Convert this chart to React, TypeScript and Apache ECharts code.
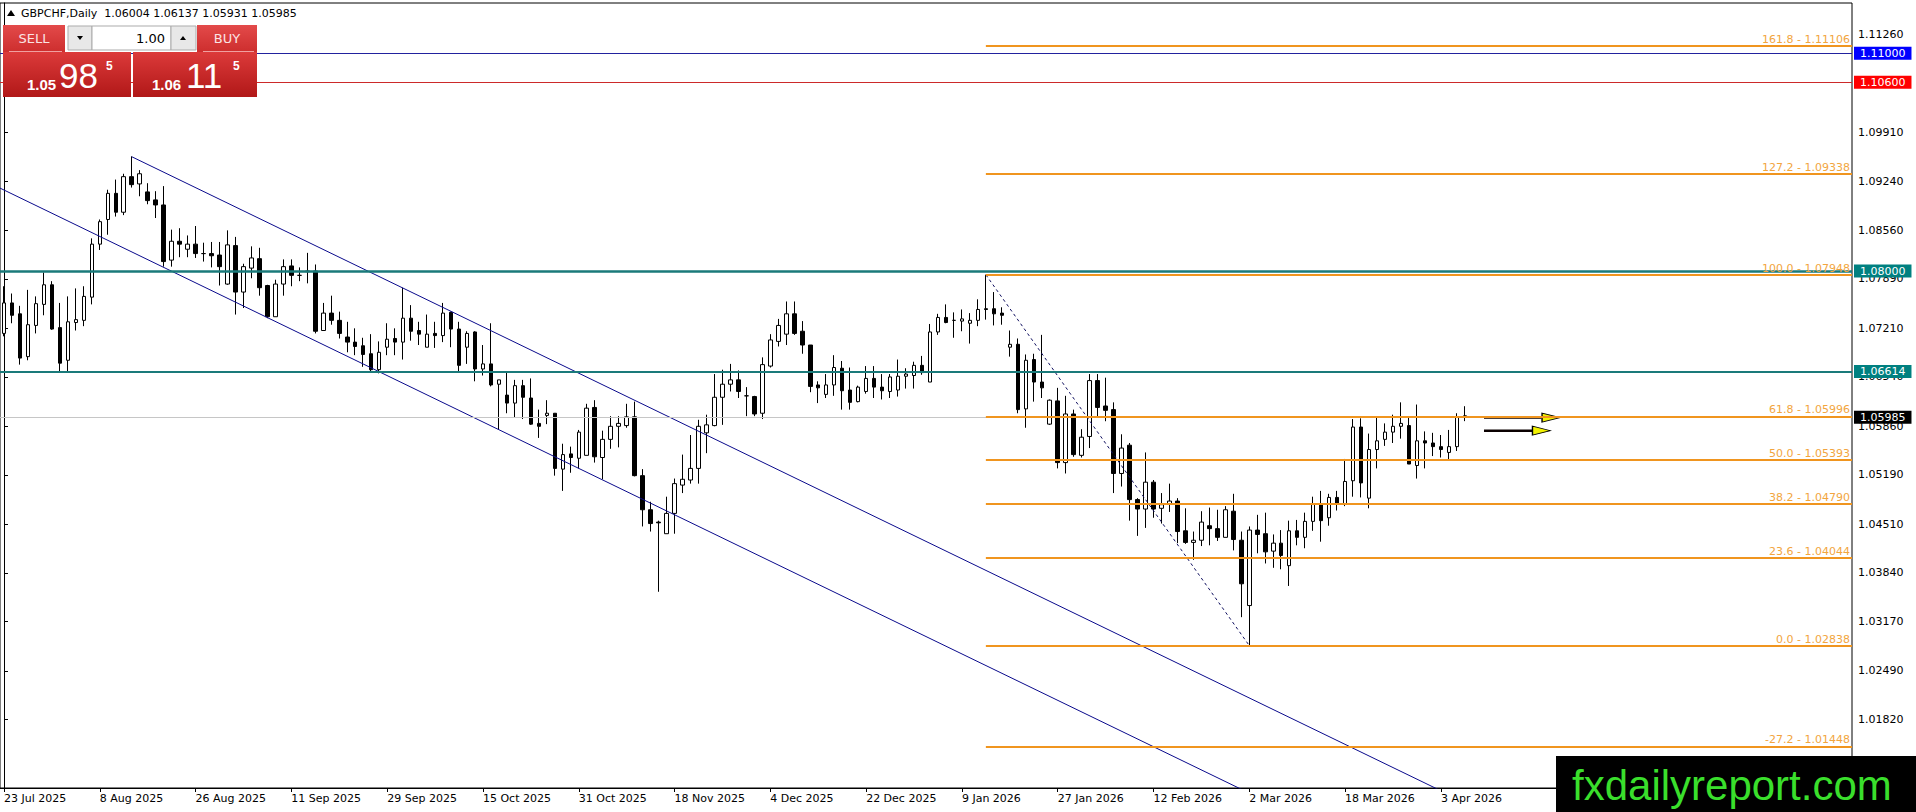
import { useEffect, useRef } from "react";
import * as echarts from "echarts";

const FONT = "DejaVu Sans";
const MONTHS = ["Jan", "Feb", "Mar", "Apr", "May", "Jun", "Jul", "Aug", "Sep", "Oct", "Nov", "Dec"];

// time scale: one slot per trading day, plus empty space on the right
const FIRST_BAR = Date.UTC(2025, 6, 23);
const MARKET_CLOSED = ["2025-12-25", "2026-01-01"];
const SLOT_COUNT = 232;

const X_LABELS = [
  "23 Jul 2025", "8 Aug 2025", "26 Aug 2025", "11 Sep 2025", "29 Sep 2025", "15 Oct 2025",
  "31 Oct 2025", "18 Nov 2025", "4 Dec 2025", "22 Dec 2025", "9 Jan 2026", "27 Jan 2026",
  "12 Feb 2026", "2 Mar 2026", "18 Mar 2026", "3 Apr 2026",
];

const Y_TICKS = [
  1.1126, 1.1059, 1.0991, 1.0924, 1.0856, 1.0789, 1.0721, 1.0654, 1.0586, 1.0519,
  1.0451, 1.0384, 1.0317, 1.0249, 1.0182,
];

const OPEN = [
  1.0714, 1.0756, 1.0741, 1.0682, 1.0725, 1.0754, 1.0781, 1.0722, 1.0677, 1.0729,
  1.0732, 1.0764, 1.0837, 1.0871, 1.0907, 1.0881, 1.0930, 1.0920, 1.0909, 1.0898,
  1.0891, 1.0815, 1.0841, 1.0830, 1.0837, 1.0824, 1.0824, 1.0822, 1.0782, 1.0835,
  1.0771, 1.0804, 1.0817, 1.0780, 1.0737, 1.0782, 1.0807, 1.0794, 1.0800, 1.0800,
  1.0718, 1.0742, 1.0732, 1.0709, 1.0702, 1.0697, 1.0686, 1.0664, 1.0695, 1.0707,
  1.0702, 1.0735, 1.0718, 1.0695, 1.0714, 1.0711, 1.0743, 1.0720, 1.0695, 1.0716,
  1.0665, 1.0672, 1.0644, 1.0629, 1.0618, 1.0642, 1.0625, 1.0590, 1.0601, 1.0604,
  1.0527, 1.0548, 1.0542, 1.0546, 1.0612, 1.0543, 1.0568, 1.0586, 1.0587, 1.0599,
  1.0518, 1.0471, 1.0454, 1.0438, 1.0466, 1.0505, 1.0512, 1.0528, 1.0577, 1.0587,
  1.0626, 1.0644, 1.0650, 1.0628, 1.0627, 1.0604, 1.0669, 1.0703, 1.0713, 1.0741,
  1.0717, 1.0698, 1.0643, 1.0630, 1.0643, 1.0666, 1.0636, 1.0620, 1.0634, 1.0652,
  1.0640, 1.0634, 1.0636, 1.0655, 1.0656, 1.0670, 1.0647, 1.0716, 1.0736, 1.0732,
  1.0731, 1.0728, 1.0732, 1.0748, 1.0748, 1.0742, 1.0695, 1.0699, 1.0610, 1.0678,
  1.0647, 1.0589, 1.0621, 1.0536, 1.0603, 1.0546, 1.0572, 1.0649, 1.0614, 1.0609,
  1.0521, 1.0560, 1.0485, 1.0472, 1.0509, 1.0473, 1.0479, 1.0483, 1.0442, 1.0426,
  1.0429, 1.0449, 1.0445, 1.0433, 1.0469, 1.0429, 1.0339, 1.0443, 1.0438, 1.0414,
  1.0425, 1.0394, 1.0442, 1.0433, 1.0455, 1.0479, 1.0460, 1.0488, 1.0479, 1.0511,
  1.0585, 1.0487, 1.0554, 1.0568, 1.0578, 1.0586, 1.0587, 1.0532, 1.0566, 1.0563,
  1.0558, 1.0550, 1.0558, 1.06004,
];

const HIGH = [
  1.0779, 1.0769, 1.0752, 1.0774, 1.0765, 1.0798, 1.0786, 1.0756, 1.0765, 1.0776,
  1.0779, 1.0845, 1.0871, 1.0912, 1.0926, 1.0934, 1.0958, 1.0939, 1.0921, 1.0910,
  1.0917, 1.0857, 1.0859, 1.0849, 1.0862, 1.0839, 1.0840, 1.0840, 1.0856, 1.0847,
  1.0810, 1.0834, 1.0832, 1.0781, 1.0788, 1.0816, 1.0816, 1.0805, 1.0825, 1.0809,
  1.0756, 1.0766, 1.0744, 1.0730, 1.0721, 1.0708, 1.0713, 1.0703, 1.0728, 1.0721,
  1.0777, 1.0753, 1.0730, 1.0740, 1.0730, 1.0756, 1.0744, 1.0730, 1.0717, 1.0717,
  1.0698, 1.0728, 1.0650, 1.0661, 1.0650, 1.0650, 1.0652, 1.0609, 1.0622, 1.0604,
  1.0562, 1.0558, 1.0581, 1.0617, 1.0622, 1.0580, 1.0600, 1.0600, 1.0617, 1.0620,
  1.0527, 1.0482, 1.0456, 1.0489, 1.0514, 1.0547, 1.0574, 1.0595, 1.0602, 1.0658,
  1.0664, 1.0672, 1.0663, 1.0640, 1.0628, 1.0681, 1.0713, 1.0734, 1.0758, 1.0758,
  1.0731, 1.0698, 1.0648, 1.0658, 1.0684, 1.0676, 1.0667, 1.0642, 1.0669, 1.0669,
  1.0658, 1.0658, 1.0678, 1.0666, 1.0675, 1.0683, 1.0727, 1.0741, 1.0754, 1.0743,
  1.0747, 1.0742, 1.0761, 1.07948, 1.0771, 1.0750, 1.0718, 1.0707, 1.0685, 1.0686,
  1.0712, 1.0623, 1.0639, 1.0628, 1.0609, 1.0582, 1.0658, 1.0658, 1.0653, 1.0619,
  1.0575, 1.0563, 1.0487, 1.0550, 1.0512, 1.0494, 1.0507, 1.0487, 1.0473, 1.0441,
  1.0469, 1.0474, 1.0471, 1.0476, 1.0493, 1.0441, 1.0448, 1.0464, 1.0467, 1.0437,
  1.0443, 1.0456, 1.0457, 1.0467, 1.0489, 1.0497, 1.0493, 1.0497, 1.0541, 1.0596,
  1.0597, 1.0576, 1.0598, 1.0590, 1.0602, 1.0619, 1.0599, 1.0616, 1.0579, 1.0577,
  1.0574, 1.0581, 1.0604, 1.06137,
];

const LOW = [
  1.0710, 1.0728, 1.0671, 1.0677, 1.0714, 1.0739, 1.0719, 1.0662, 1.0662, 1.0718,
  1.0724, 1.0754, 1.0829, 1.0850, 1.0875, 1.0877, 1.0915, 1.0903, 1.0892, 1.0873,
  1.0806, 1.0806, 1.0819, 1.0819, 1.0818, 1.0813, 1.0805, 1.0780, 1.0781, 1.0740,
  1.0749, 1.0790, 1.0766, 1.0735, 1.0737, 1.0766, 1.0779, 1.0786, 1.0783, 1.0714,
  1.0718, 1.0726, 1.0707, 1.0688, 1.0684, 1.0668, 1.0662, 1.0659, 1.0684, 1.0684,
  1.0678, 1.0704, 1.0698, 1.0695, 1.0694, 1.0702, 1.0695, 1.0661, 1.0672, 1.0648,
  1.0656, 1.0641, 1.0581, 1.0604, 1.0598, 1.0596, 1.0588, 1.0570, 1.0589, 1.0518,
  1.0497, 1.0522, 1.0528, 1.0546, 1.0536, 1.0513, 1.0555, 1.0557, 1.0584, 1.0517,
  1.0448, 1.0441, 1.0358, 1.0438, 1.0438, 1.0494, 1.0507, 1.0507, 1.0549, 1.0586,
  1.0588, 1.0634, 1.0625, 1.0600, 1.0600, 1.0596, 1.0667, 1.0696, 1.0698, 1.0712,
  1.0686, 1.0633, 1.0618, 1.0625, 1.0628, 1.0609, 1.0609, 1.0619, 1.0631, 1.0625,
  1.0623, 1.0625, 1.0627, 1.0638, 1.0638, 1.0657, 1.0647, 1.0712, 1.0728, 1.0708,
  1.0717, 1.0700, 1.0724, 1.0733, 1.0725, 1.0726, 1.0682, 1.0604, 1.0584, 1.0620,
  1.0625, 1.0588, 1.0528, 1.0521, 1.0544, 1.0543, 1.0556, 1.0599, 1.0593, 1.0494,
  1.0503, 1.0456, 1.0435, 1.0446, 1.0460, 1.0452, 1.0468, 1.0425, 1.0424, 1.0402,
  1.0421, 1.0422, 1.0428, 1.0433, 1.0415, 1.0323, 1.02838, 1.0411, 1.0397, 1.0391,
  1.0389, 1.0366, 1.0422, 1.0418, 1.0442, 1.0427, 1.0449, 1.0470, 1.0476, 1.0489,
  1.0488, 1.0473, 1.0528, 1.0559, 1.0563, 1.0569, 1.0534, 1.0514, 1.0528, 1.0545,
  1.0543, 1.0540, 1.0552, 1.05931,
];

const CLOSE = [
  1.0756, 1.0739, 1.0680, 1.0726, 1.0755, 1.0781, 1.0720, 1.0673, 1.0730, 1.0733,
  1.0765, 1.0837, 1.0868, 1.0907, 1.0881, 1.0930, 1.0919, 1.0934, 1.0897, 1.0891,
  1.0813, 1.0841, 1.0837, 1.0837, 1.0824, 1.0824, 1.0821, 1.0806, 1.0836, 1.0771,
  1.0806, 1.0818, 1.0777, 1.0737, 1.0782, 1.0806, 1.0794, 1.0794, 1.0799, 1.0717,
  1.0742, 1.0732, 1.0714, 1.0702, 1.0696, 1.0685, 1.0664, 1.0688, 1.0706, 1.0702,
  1.0735, 1.0717, 1.0713, 1.0713, 1.0711, 1.0742, 1.0720, 1.0670, 1.0714, 1.0665,
  1.0672, 1.0643, 1.0650, 1.0618, 1.0642, 1.0626, 1.0589, 1.0586, 1.0604, 1.0528,
  1.0547, 1.0543, 1.0578, 1.0611, 1.0544, 1.0568, 1.0586, 1.0590, 1.0599, 1.0518,
  1.0471, 1.0452, 1.0453, 1.0466, 1.0507, 1.0513, 1.0528, 1.0586, 1.0588, 1.0626,
  1.0644, 1.0650, 1.0634, 1.0628, 1.0603, 1.0671, 1.0705, 1.0725, 1.0741, 1.0714,
  1.0698, 1.0641, 1.0639, 1.0643, 1.0667, 1.0635, 1.0619, 1.0640, 1.0652, 1.0640,
  1.0635, 1.0654, 1.0655, 1.0658, 1.0670, 1.0660, 1.0716, 1.0736, 1.0729, 1.0732,
  1.0734, 1.0732, 1.0747, 1.0747, 1.0741, 1.0739, 1.0699, 1.0609, 1.0677, 1.0647,
  1.0639, 1.0622, 1.0536, 1.0603, 1.0547, 1.0571, 1.0649, 1.0612, 1.0608, 1.0521,
  1.0556, 1.0485, 1.0472, 1.0509, 1.0472, 1.0478, 1.0483, 1.0441, 1.0426, 1.0429,
  1.0454, 1.0445, 1.0433, 1.0471, 1.0430, 1.0369, 1.0443, 1.0437, 1.0413, 1.0425,
  1.0408, 1.0442, 1.0433, 1.0455, 1.0479, 1.0456, 1.0488, 1.0479, 1.0510, 1.0585,
  1.0508, 1.0554, 1.0566, 1.0578, 1.0586, 1.0590, 1.0534, 1.0566, 1.0563, 1.0558,
  1.0554, 1.0558, 1.0599, 1.05985,
];

// fibonacci retracement drawn from the January high to the March low
const FIB_SWING = [[123, 1.07948], [156, 1.02838]];
const FIB_LEVELS = [161.8, 127.2, 100.0, 61.8, 50.0, 38.2, 23.6, 0.0, -27.2];
const FIB_PRICES = [1.11106, 1.09338, 1.07948, 1.05996, 1.05393, 1.0479, 1.04044, 1.02838, 1.01448];

// horizontal levels with their price boxes on the right scale
const LEVEL_PRICES = [1.11, 1.106, 1.08, 1.06614, 1.05985];
const LEVEL_LINE_COLORS = ["#22229E", "#CC2A2A", "#1A7A7A", "#1A7A7A", "#C6C6C6"];
const LEVEL_BOX_COLORS = ["#0000FF", "#FF0000", "#008080", "#008080", "#000000"];
const LEVEL_WIDTHS = [1, 1, 2.5, 2, 1];

// descending channel
const CHANNEL_UPPER = [[16, 1.09575], [180, 1.00838]];
const CHANNEL_LOWER = [[-1, 1.09169], [165, 1.00326]];

// the two yellow arrows to the right of the last bar
const ARROW_PRICES = [1.0598, 1.058];
const ARROW_STARTS = [185.4, 185.4];
const ARROW_ENDS = [192.6, 191.5];
const ARROW_HEADS = [193.8, 192.6];

const FIB_LINE = "#F0951F";
const FIB_TEXT = "#F2A53E";

function tradingDays() {
  const out: string[] = [];
  let t = FIRST_BAR;
  while (out.length < SLOT_COUNT) {
    const d = new Date(t);
    const wd = d.getUTCDay();
    const iso = d.toISOString().slice(0, 10);
    if (wd !== 0 && wd !== 6 && !MARKET_CLOSED.includes(iso)) {
      out.push(`${d.getUTCDate()} ${MONTHS[d.getUTCMonth()]} ${d.getUTCFullYear()}`);
    }
    t += 86400000;
  }
  return out;
}

const redFill = (top: string, bottom: string) =>
  new echarts.graphic.LinearGradient(0, 0, 0, 1, [
    { offset: 0, color: top },
    { offset: 1, color: bottom },
  ]);

function tradePanel() {
  const z = 100;
  const small = `13px "${FONT}"`;
  return [
    // header line
    { type: "polygon", z, shape: { points: [[7, 16], [11, 10], [15, 16]] }, style: { fill: "#000" } },
    {
      type: "text", z, x: 21, y: 13,
      style: { text: "GBPCHF,Daily  1.06004 1.06137 1.05931 1.05985", fill: "#000", font: `11px "${FONT}"`, verticalAlign: "middle" },
    },
    // one-click trading panel
    { type: "rect", z, shape: { x: 3, y: 25, width: 62, height: 27 }, style: { fill: redFill("#E34A4A", "#CD2E2E") } },
    { type: "text", z, x: 34, y: 38, style: { text: "SELL", fill: "#FBE4E4", font: small, align: "center", verticalAlign: "middle" } },
    { type: "line", z, shape: { x1: 9, y1: 51.5, x2: 62, y2: 51.5 }, style: { stroke: "#F0A0A0", lineWidth: 1 } },
    { type: "rect", z, shape: { x: 68, y: 26, width: 24, height: 24 }, style: { fill: "#E8E8E8", stroke: "#ABABAB", lineWidth: 1 } },
    { type: "polygon", z, shape: { points: [[77, 36], [83, 36], [80, 40]] }, style: { fill: "#000" } },
    { type: "rect", z, shape: { x: 92, y: 26, width: 79, height: 24 }, style: { fill: "#fff", stroke: "#ABABAB", lineWidth: 1 } },
    { type: "text", z, x: 165, y: 38, style: { text: "1.00", fill: "#000", font: small, align: "right", verticalAlign: "middle" } },
    { type: "rect", z, shape: { x: 171, y: 26, width: 25, height: 24 }, style: { fill: "#E8E8E8", stroke: "#ABABAB", lineWidth: 1 } },
    { type: "polygon", z, shape: { points: [[180, 40], [186, 40], [183, 36]] }, style: { fill: "#000" } },
    { type: "rect", z, shape: { x: 197, y: 25, width: 60, height: 27 }, style: { fill: redFill("#E34A4A", "#CD2E2E") } },
    { type: "text", z, x: 227, y: 38, style: { text: "BUY", fill: "#FBE4E4", font: small, align: "center", verticalAlign: "middle" } },
    { type: "line", z, shape: { x1: 203, y1: 51.5, x2: 254, y2: 51.5 }, style: { stroke: "#F0A0A0", lineWidth: 1 } },
    { type: "rect", z, shape: { x: 3, y: 52, width: 128, height: 45 }, style: { fill: redFill("#DC3A3A", "#B11818") } },
    { type: "rect", z, shape: { x: 133, y: 52, width: 124, height: 45 }, style: { fill: redFill("#DC3A3A", "#B11818") } },
    { type: "text", z, x: 27, y: 84, style: { text: "1.05", fill: "#fff", font: 'bold 15px "Liberation Sans"', verticalAlign: "middle" } },
    { type: "text", z, x: 59, y: 75, style: { text: "98", fill: "#fff", font: '35px "Liberation Sans"', verticalAlign: "middle" } },
    { type: "text", z, x: 106, y: 66, style: { text: "5", fill: "#fff", font: 'bold 12px "Liberation Sans"', verticalAlign: "middle" } },
    { type: "text", z, x: 152, y: 84, style: { text: "1.06", fill: "#fff", font: 'bold 15px "Liberation Sans"', verticalAlign: "middle" } },
    { type: "text", z, x: 186, y: 75, style: { text: "11", fill: "#fff", font: '35px "Liberation Sans"', verticalAlign: "middle" } },
    { type: "text", z, x: 233, y: 66, style: { text: "5", fill: "#fff", font: 'bold 12px "Liberation Sans"', verticalAlign: "middle" } },
    // watermark
    { type: "rect", z, shape: { x: 1556, y: 756, width: 360, height: 56 }, style: { fill: "#000" } },
    {
      type: "text", z, x: 1572, y: 785,
      style: { text: "fxdailyreport.com", fill: "#3ADF2C", font: '42px "Liberation Sans"', verticalAlign: "middle" },
    },
  ];
}

export default function App() {
  const chartRef = useRef<HTMLDivElement>(null);

  useEffect(() => {
    if (!chartRef.current) return;
    const chart = echarts.init(chartRef.current, undefined, { renderer: "svg" });

    const dates = tradingDays();
    const candles = OPEN.map((o, i) => [o, CLOSE[i], LOW[i], HIGH[i]]);
    const showDate = (_: number, value: string) => X_LABELS.includes(value);

    const levelLines = LEVEL_PRICES.map((p, i) => ({
      yAxis: p,
      lineStyle: { color: LEVEL_LINE_COLORS[i], width: LEVEL_WIDTHS[i], type: "solid" },
      label: {
        show: true,
        position: "end",
        distance: 2,
        formatter: p.toFixed(5),
        color: "#fff",
        backgroundColor: LEVEL_BOX_COLORS[i],
        padding: [1, 6, 0, 6],
        fontFamily: FONT,
        fontSize: 11,
        lineHeight: 12,
      },
    }));

    const fibLines = FIB_PRICES.map((p, i) => [
      {
        coord: [FIB_SWING[0][0], p],
        lineStyle: { color: FIB_LINE, width: 2, type: "solid" },
        label: {
          show: true,
          position: "insideEndTop",
          distance: [2, 1],
          formatter: `${FIB_LEVELS[i].toFixed(1)} - ${p.toFixed(5)}`,
          color: FIB_TEXT,
          fontFamily: FONT,
          fontSize: 11,
        },
      },
      { coord: [SLOT_COUNT - 0.5, p] },
    ]);

    const option = {
      animation: false,
      backgroundColor: "#fff",
      textStyle: { fontFamily: FONT },
      grid: {
        left: 0,
        top: 3,
        width: 1852,
        height: 785,
        show: true,
        borderColor: "#000",
        borderWidth: 1,
        backgroundColor: "#fff",
      },
      xAxis: [
        {
          type: "category",
          data: dates,
          boundaryGap: true,
          axisLine: { show: true, lineStyle: { color: "#000" } },
          axisTick: { show: true, alignWithLabel: true, interval: showDate, length: 4, lineStyle: { color: "#000" } },
          axisLabel: { interval: showDate, align: "left", margin: 5, color: "#000", fontFamily: FONT, fontSize: 11 },
          splitLine: { show: false },
        },
        { type: "value", min: -0.5, max: SLOT_COUNT - 0.5, show: false },
      ],
      yAxis: {
        type: "value",
        position: "right",
        min: 1.00876,
        max: 1.11693,
        splitLine: { show: false },
        axisLine: { show: true, lineStyle: { color: "#000" } },
        axisTick: { show: true, length: 4, customValues: Y_TICKS, lineStyle: { color: "#000" } },
        axisLabel: {
          customValues: Y_TICKS,
          formatter: (v: number) => v.toFixed(5),
          color: "#000",
          fontFamily: FONT,
          fontSize: 11,
          margin: 6,
        },
      },
      series: [
        {
          type: "candlestick",
          xAxisIndex: 0,
          data: candles,
          barWidth: 4,
          itemStyle: {
            color: "#fff",
            color0: "#000",
            borderColor: "#000",
            borderColor0: "#000",
            borderWidth: 1,
          },
        },
        {
          type: "line",
          xAxisIndex: 1,
          data: FIB_SWING,
          showSymbol: false,
          lineStyle: { color: "#101060", width: 1, type: [3, 3] },
          markLine: {
            silent: true,
            precision: 6,
            symbol: ["none", "none"],
            data: [...levelLines, ...fibLines],
          },
        },
        {
          type: "line",
          xAxisIndex: 1,
          data: CHANNEL_UPPER,
          showSymbol: false,
          lineStyle: { color: "#0A0A8C", width: 1 },
        },
        {
          type: "line",
          xAxisIndex: 1,
          data: CHANNEL_LOWER,
          showSymbol: false,
          lineStyle: { color: "#0A0A8C", width: 1 },
        },
        ...ARROW_PRICES.map((p, i) => ({
          type: "line",
          xAxisIndex: 1,
          data: [[ARROW_STARTS[i], p], [ARROW_ENDS[i], p]],
          showSymbol: false,
          lineStyle: { color: "#0A0000", width: 2.5 },
        })),
        {
          type: "scatter",
          xAxisIndex: 1,
          data: ARROW_PRICES.map((p, i) => [ARROW_HEADS[i], p]),
          symbol: "triangle",
          symbolSize: [9, 18],
          symbolRotate: -90,
          itemStyle: { color: "#F2F200", borderColor: "#000", borderWidth: 1, opacity: 1 },
        },
      ],
      graphic: tradePanel(),
    };

    chart.setOption(option as any);

    return () => {
      chart.dispose();
    };
  }, []);

  return (
    <div
      ref={chartRef}
      style={{ position: "fixed", left: 0, top: 0, width: 1916, height: 812, background: "#fff" }}
    ></div>
  );
}
